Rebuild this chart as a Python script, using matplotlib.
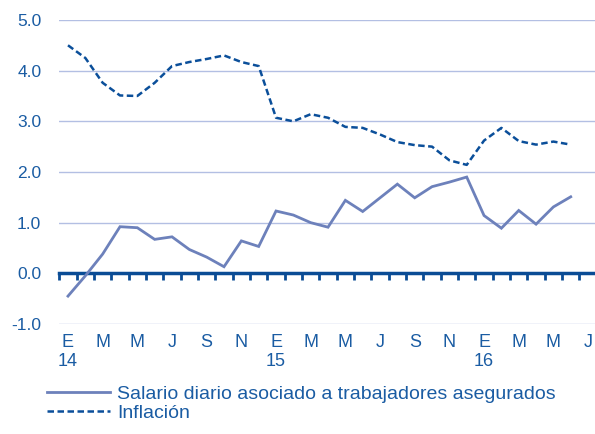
import matplotlib
matplotlib.use('Agg')
import matplotlib.pyplot as plt
import numpy as np

# monthly series, Jan 2014 .. Jun 2016
salario = [-0.45, -0.05, 0.38, 0.92, 0.90, 0.67, 0.72, 0.47, 0.32, 0.13,
           0.64, 0.53, 1.23, 1.15, 1.00, 0.91, 1.44, 1.22, 1.49, 1.76,
           1.49, 1.71, 1.80, 1.90, 1.14, 0.89, 1.24, 0.97, 1.31, 1.51]
inflacion = [4.50, 4.25, 3.76, 3.51, 3.50, 3.76, 4.09, 4.17, 4.23, 4.30,
             4.17, 4.09, 3.07, 3.00, 3.14, 3.07, 2.89, 2.87, 2.74, 2.59,
             2.53, 2.50, 2.23, 2.14, 2.62, 2.87, 2.61, 2.54, 2.60, 2.54]
month_labels = ['E', 'M', 'M', 'J', 'S', 'N'] * 2 + ['E', 'M', 'M', 'J']
year_labels = ['14', '15', '16']
y_ticks = [-1.0, 0.0, 1.0, 2.0, 3.0, 4.0, 5.0]

text_color = '#1A5CA3'
grid_color = '#B3BFE3'
axis_color = '#0A4C95'
salario_color = '#6D81BB'
inflacion_color = '#0B4F9A'

plt.rcParams['font.family'] = ['Liberation Sans', 'DejaVu Sans']
plt.rcParams['font.size'] = 12

fig = plt.figure(figsize=(5.95, 4.34), dpi=100)
ax = fig.add_axes([0.0997, 0.2535, 0.9003, 0.7005])

x = np.arange(len(salario))
ax.plot(x, salario, color=salario_color, lw=2.0, solid_joinstyle='miter',
        label='Salario diario asociado a trabajadores asegurados')
ax.plot(x, inflacion, color=inflacion_color, lw=1.8, dashes=(2.6, 1.4),
        label='Inflación')

ax.set_ylim(-1.0, 5.0)
ax.set_xlim(-0.5, 30.4)
ax.set_yticks(y_ticks)
ax.set_yticklabels([f'{v:.1f}' for v in y_ticks])
ax.tick_params(axis='y', length=0, pad=13, colors=text_color, labelsize=12.5)
ax.yaxis.grid(True, color=grid_color, lw=1.0)
ax.set_axisbelow(True)

for side in ['top', 'right', 'left']:
    ax.spines[side].set_visible(False)

# zero line carries the month tick marks
ax.spines['bottom'].set_position(('data', 0))
ax.spines['bottom'].set_color(axis_color)
ax.spines['bottom'].set_linewidth(2.5)
ax.spines['bottom'].set_zorder(1)
ax.set_xticks(np.arange(-0.5, 30.5, 1.0))
ax.set_xticklabels([])
ax.tick_params(axis='x', length=5, width=2, color=axis_color, direction='out')

trans = ax.get_xaxis_transform()
for i, lab in enumerate(month_labels):
    ax.text(2 * i, -0.06, lab, transform=trans, ha='center', va='center',
            color=text_color, fontsize=13)
for i, lab in enumerate(year_labels):
    ax.text(12 * i, -0.125, lab, transform=trans, ha='center', va='center',
            color=text_color, fontsize=13)

fig.legend(loc='upper left', bbox_to_anchor=(0.079, 0.112), frameon=False,
           borderpad=0, borderaxespad=0, handlelength=3.25, handletextpad=0.36,
           labelspacing=0.07, labelcolor=text_color, fontsize=14)

fig.savefig('out.png', dpi=100)
